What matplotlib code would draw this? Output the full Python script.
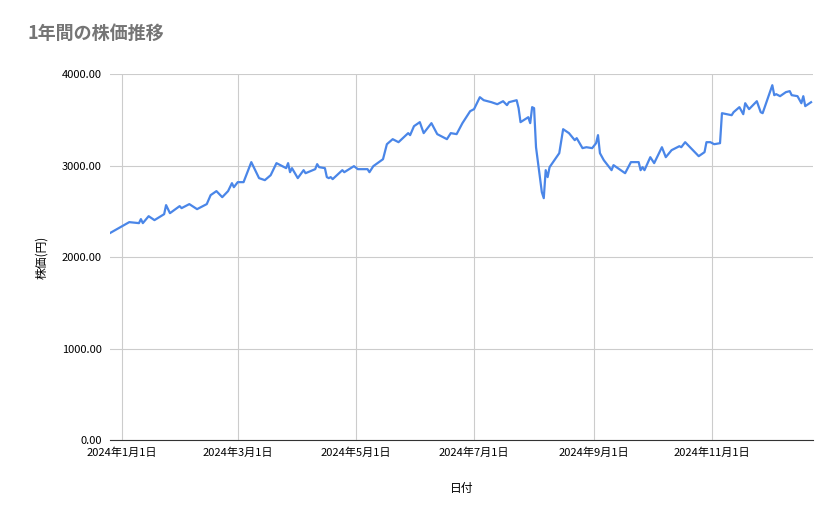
import matplotlib
matplotlib.use("Agg")
import matplotlib.pyplot as plt
import numpy as np
import pandas as pd

plt.rcParams['font.family'] = ['Noto Sans CJK JP', 'DejaVu Sans']

# days offset from 2024-01-01
days = [-6,4,9,10,11,14,17,22,23,25,30,31,35,39,44,46,49,52,55,57,58,60,63,67,71,74,77,80,85,86,87,88,91,94,95,
        100,101,102,105,106,107,108,109,114,115,120,122,127,128,130,135,137,140,143,148,149,151,154,156,160,163,
        168,170,173,176,178,180,182,185,187,191,194,197,199,200,204,205,206,210,211,212,213,214,217,218,219,220,
        221,226,228,231,234,235,238,240,243,245,246,247,249,253,254,260,263,267,268,269,270,273,275,279,281,284,
        288,289,291,293,297,298,301,302,304,306,309,310,315,316,319,321,322,324,326,328,330,331,336,337,338,340,
        343,345,346,349,351,352,353,356]
prices = [2263,2383,2372,2416,2372,2448,2405,2470,2569,2481,2558,2536,2580,2525,2580,2678,2722,2656,2722,2809,2765,
          2820,2820,3039,2864,2842,2896,3028,2973,3028,2929,2973,2864,2951,2918,2962,3017,2984,2973,2875,2864,2875,
          2853,2951,2929,2995,2962,2962,2929,2995,3071,3235,3290,3257,3356,3334,3432,3476,3356,3465,3345,3290,3356,
          3345,3465,3530,3596,3618,3749,3716,3694,3672,3705,3662,3694,3716,3629,3476,3530,3465,3640,3629,3202,2711,
          2645,2951,2875,2984,3137,3399,3356,3279,3301,3192,3202,3192,3246,3334,3137,3060,2951,3006,2918,3039,3039,
          2951,2984,2951,3093,3028,3202,3093,3170,3213,3202,3257,3213,3126,3104,3148,3257,3257,3235,3246,3574,3552,
          3585,3640,3563,3683,3618,3662,3705,3585,3574,3880,3771,3782,3760,3804,3815,3771,3760,3683,3760,3651,3694]
tick_dates = ['2024-01-01','2024-03-01','2024-05-01','2024-07-01','2024-09-01','2024-11-01']
tick_labels = ['2024年1月1日','2024年3月1日','2024年5月1日','2024年7月1日','2024年9月1日','2024年11月1日']

base = pd.Timestamp('2024-01-01')
dates = [base + pd.Timedelta(days=d) for d in days]

fig = plt.figure(figsize=(8.39, 5.19), dpi=100)
ax = fig.add_axes([0.131, 0.152, 0.838, 0.705])
ax.plot(dates, prices, color='#4a86e8', lw=1.6)
ax.set_xlim(base + pd.Timedelta(days=-6), base + pd.Timedelta(days=357))
ax.set_ylim(0, 4000)
ax.set_yticks([0, 1000, 2000, 3000, 4000])
ax.set_yticklabels([f'{v:.2f}' for v in [0, 1000, 2000, 3000, 4000]], fontsize=8)
ax.set_xticks(pd.to_datetime(tick_dates))
ax.set_xticklabels(tick_labels, fontsize=8)
ax.grid(True, color='#cccccc', lw=0.8)
ax.set_axisbelow(True)
for s in ['top', 'right', 'left']:
    ax.spines[s].set_visible(False)
ax.spines['bottom'].set_color('#333333')
ax.tick_params(axis='y', length=0, pad=6)
ax.tick_params(axis='x', length=0, pad=5)
ax.set_xlabel('日付', fontsize=8.5, labelpad=18)
ax.set_ylabel('株価(円)', fontsize=8.5, labelpad=10)
fig.text(0.033, 0.925, '1年間の株価推移', fontsize=13, color='#757575', fontweight='bold')
fig.savefig('out.png', dpi=100)
